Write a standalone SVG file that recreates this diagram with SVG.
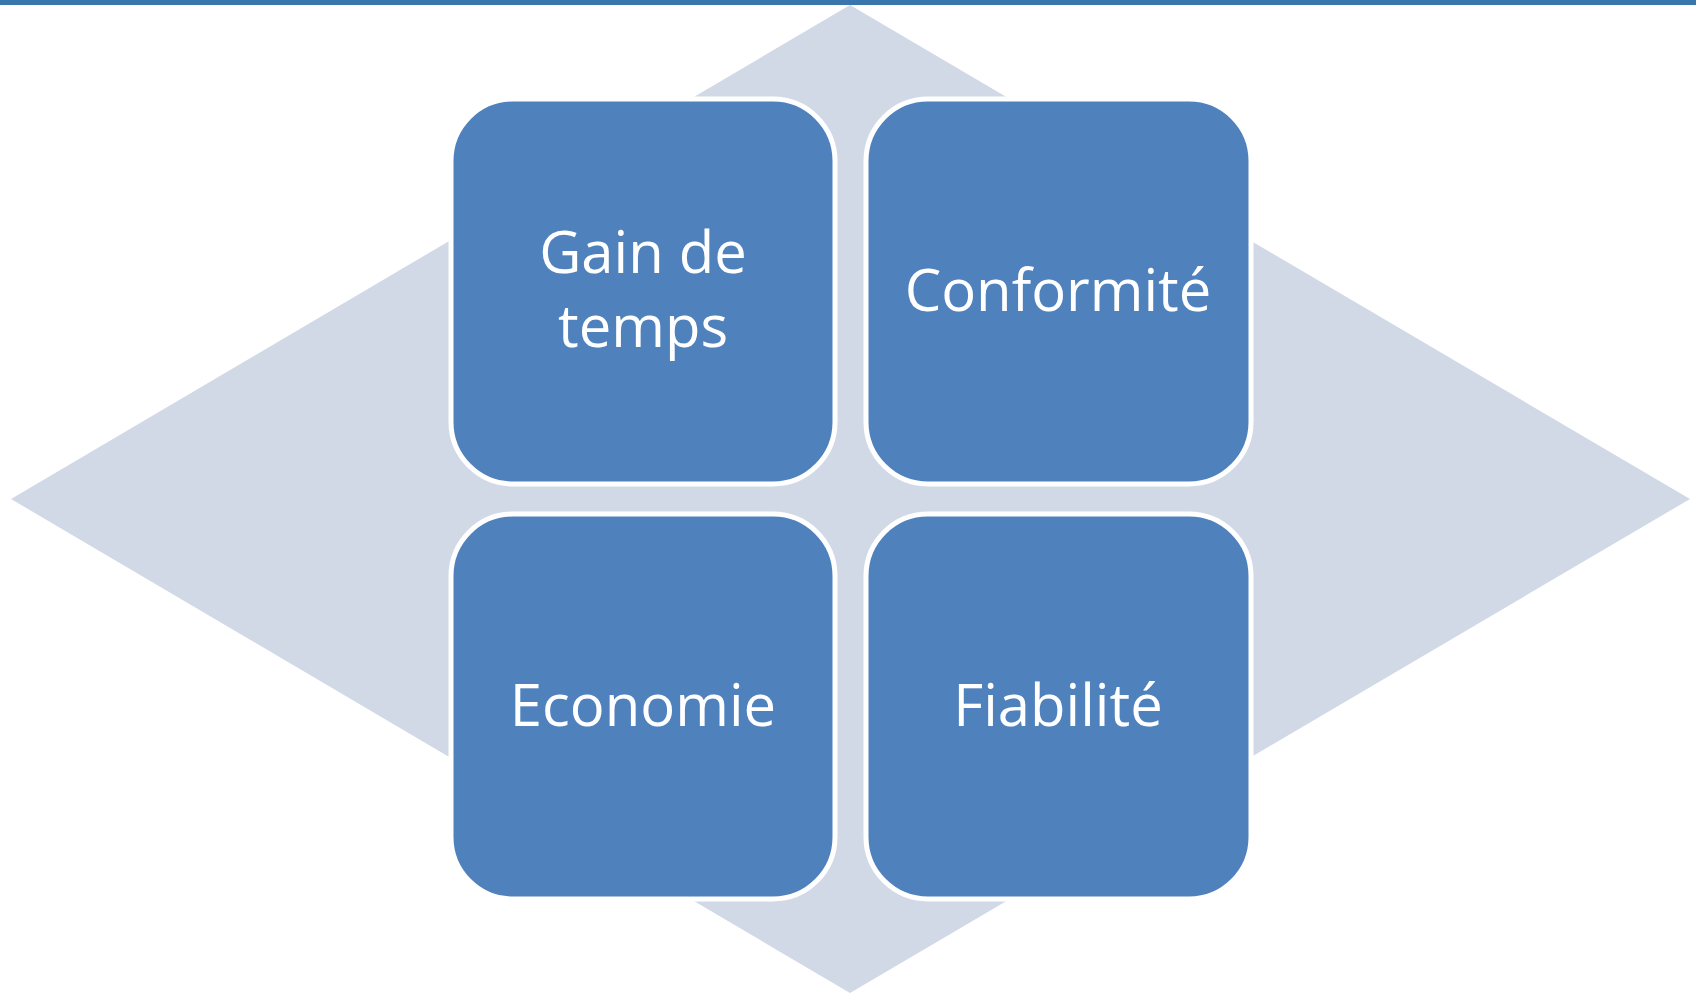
<svg xmlns="http://www.w3.org/2000/svg" width="1696" height="994" viewBox="0 0 1696 994">
<style>
.box{fill:#4F81BD;stroke:#FFFFFF;stroke-width:5}
.lbl{font-family:"Open Sans","Liberation Sans",sans-serif;font-size:58px;fill:#FFFFFF;text-anchor:middle}
</style>
<rect x="0" y="0" width="1696" height="994" fill="#FFFFFF"/>
<rect x="0" y="0" width="1696" height="5" fill="#3A76AE"/>
<polygon points="850,5 1690,499 850,993 11,499" fill="#D1D9E7"/>
<g id="connectors"></g>
<g id="node-gain">
<rect class="box" x="451" y="99" width="384" height="385" rx="62" ry="62"/>
<text class="lbl" x="643" y="273">Gain de</text>
<text class="lbl" x="643" y="347">temps</text>
</g>
<g id="node-conformite">
<rect class="box" x="866" y="99" width="385" height="385" rx="62" ry="62"/>
<text class="lbl" x="1058" y="311">Conformité</text>
</g>
<g id="node-economie">
<rect class="box" x="451" y="514" width="384" height="385" rx="62" ry="62"/>
<text class="lbl" x="643" y="726">Economie</text>
</g>
<g id="node-fiabilite">
<rect class="box" x="866" y="514" width="385" height="385" rx="62" ry="62"/>
<text class="lbl" x="1058" y="726">Fiabilité</text>
</g>
</svg>
